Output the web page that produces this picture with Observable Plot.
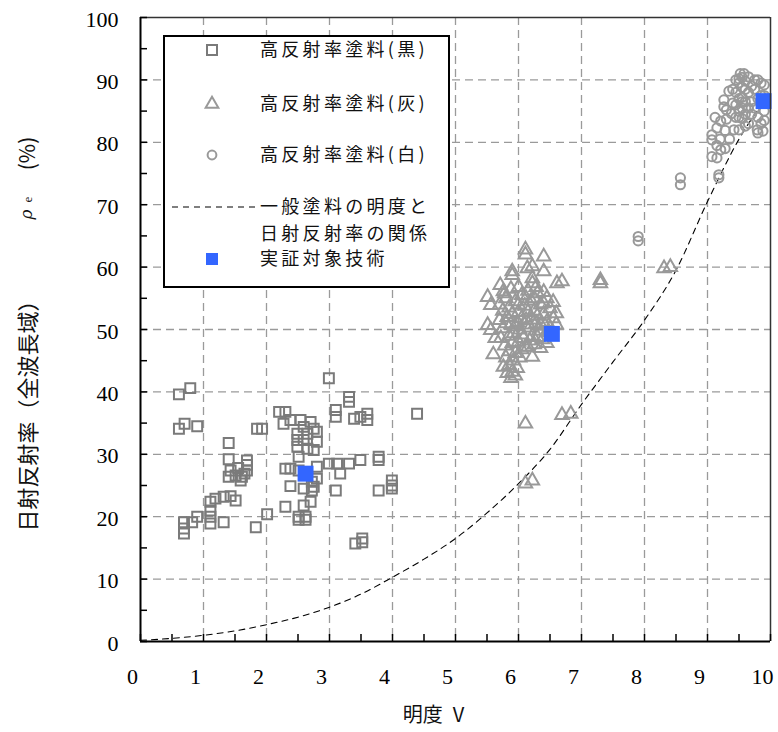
<!DOCTYPE html>
<html><head><meta charset="utf-8">
<script src="https://cdn.jsdelivr.net/npm/d3@7"></script>
<script src="https://cdn.jsdelivr.net/npm/@observablehq/plot@0.6"></script>
<style>
body{margin:0;background:#fff;}
#wrap{position:relative;width:778px;height:732px;overflow:hidden;}
#legend{position:absolute;left:163px;top:35px;width:283px;height:249px;border:2px solid #000;background:#fff;}
#legend svg{overflow:visible;}
</style></head><body><div id="wrap"><div id="legend"></div></div>
<script>
// ---- data ----
const seriesNames = ["高反射率塗料(黒)", "高反射率塗料(灰)", "高反射率塗料(白)", "一般塗料の明度と", "日射反射率の関係", "実証対象技術"];
const xTitle = "明度\u2002V";
const yTitleMain = "日射反射率（全波長域）";
const yTitleRho = "ρ";
const yTitleSub = "e";
const yTitleUnit = "(%)";
const tickV = [0,1,2,3,4,5,6,7,8,9,10];
const tickRho = [0,10,20,30,40,50,60,70,80,90,100];
const gridV = [1,2,3,4,5,6,7,8,9];
const gridRho = [10,20,30,40,50,60,70,80,90];
const minorV = d3.range(0, 10.01, 0.5);
const minorRho = d3.range(0, 100.1, 5);

// 高反射率塗料(黒) squares
const blackV = [0.61,0.79,0.61,0.70,0.90,1.40,1.40,1.43,1.51,1.61,1.69,1.69,1.59,1.69,1.40,1.11,1.19,1.32,1.43,1.51,1.11,1.11,1.11,1.32,0.69,0.69,0.69,0.82,0.90,1.83,2.01,1.85,1.93,2.20,2.30,2.99,3.31,3.31,3.10,3.10,3.39,3.49,3.60,3.60,4.39,2.27,2.38,2.54,2.70,2.59,2.75,2.49,2.65,2.80,2.49,2.59,2.80,2.49,2.65,2.75,2.51,2.30,2.38,2.51,2.80,2.80,2.99,3.12,3.17,3.31,3.49,3.78,3.78,3.99,3.99,3.99,3.78,3.10,2.38,2.59,2.72,2.70,2.59,2.30,2.51,2.62,2.51,2.62,3.41,3.52,3.52,1.55,1.65,2.75,2.72];
const blackRho = [39.6,40.6,34.1,34.9,34.5,31.8,29.2,27.4,26.6,26.4,29.0,27.4,25.8,28.3,26.4,22.4,22.9,23.2,23.3,22.6,21.0,20.0,18.9,19.1,19.1,18.1,17.3,19.1,20.0,18.3,20.4,34.1,34.1,36.8,36.8,42.2,39.2,38.4,37.1,36.0,35.7,36.0,36.5,35.5,36.5,34.9,35.5,35.5,35.2,34.4,34.1,33.3,33.3,33.6,32.3,32.3,32.0,31.2,30.9,30.7,29.6,27.7,27.7,27.4,28.0,26.1,28.5,28.5,26.9,28.5,29.1,29.6,29.1,25.8,25.0,24.5,24.2,24.2,24.9,24.5,24.2,22.4,21.8,21.6,20.0,20.0,19.5,19.5,15.7,16.5,15.9,27.8,26.9,24.8,25.6];

// 高反射率塗料(灰) triangles
const grayV = [6.11,6.11,6.40,5.90,5.90,6.14,6.22,6.40,6.22,6.22,6.61,6.69,7.30,7.30,8.31,8.41,5.71,5.76,
  5.80,5.85,5.95,6.00,6.05,6.10,6.15,6.20,6.25,6.30,6.35,6.40,6.45,6.50,6.55,6.60,5.70,5.75,5.82,5.88,5.92,5.98,6.02,6.08,6.12,6.18,6.22,6.28,6.32,6.38,6.42,6.48,5.72,5.78,5.85,5.90,5.95,6.00,6.05,6.15,6.25,6.35,5.80,5.85,5.90,5.95,5.76,5.98,6.22,6.11,
  6.11,6.69,6.83,6.11,6.22,5.51,5.56,5.51,5.56,5.63,5.60,
  5.75,5.80,5.85,5.90,5.95,6.00,6.05,6.05,6.10,6.15,6.20,6.25,6.30,6.35,6.40,6.45,6.50,6.55,6.60,5.70,5.78,5.88,6.00,6.12,6.28,6.40,5.92,6.02,5.82,5.88,6.18,6.30,6.45];
const grayRho = [62.8,62.0,61.7,59.3,58.7,59.8,60.1,59.3,58.2,57.4,57.4,57.7,57.9,57.4,59.8,60.0,57.1,56.1,
  55.0,53.5,54.5,52.8,55.5,53.8,56.2,54.6,53.0,55.8,54.0,52.5,55.0,53.4,51.8,52.6,51.5,50.2,52.0,50.8,49.4,51.2,50.0,48.6,51.5,50.3,49.0,51.0,49.8,48.4,50.6,49.5,48.6,47.4,46.5,47.8,46.2,48.0,46.8,47.2,47.6,47.0,45.5,44.3,43.2,42.6,44.0,43.8,45.6,47.2,
  34.9,36.3,36.5,25.3,25.8,55.2,53.9,50.7,49.9,48.6,46.0,
  53.0,51.0,49.0,52.5,50.5,54.0,51.8,49.2,50.8,52.8,51.6,55.0,52.2,50.8,54.2,51.2,50.2,54.4,50.8,54.0,55.8,56.5,56.8,55.0,56.8,56.0,45.0,45.5,43.0,42.2,48.2,48.8,47.8];

// 高反射率塗料(白) circles
const whiteV = [7.90,7.90,8.57,8.57,9.18,9.18,9.07,9.15,9.21,9.28,9.07,9.07,9.15,9.21,9.28,9.30,9.26,9.26,9.34,9.42,9.50,
  9.45,9.45,9.45,9.50,9.50,9.55,9.55,9.55,9.55,9.55,9.60,9.60,9.60,9.60,9.50,9.50,9.40,9.38,9.65,9.65,9.65,
  9.80,9.85,9.90,9.75,9.80,9.75,9.80,9.85,9.79,9.90,9.70,9.70,9.90,9.80,
  9.50,9.55,9.60,9.45,9.52,9.58,9.65,9.70,9.75,9.85,9.90,9.88,9.20,9.15,9.35,9.40,9.30,9.12];
const whiteRho = [64.9,64.2,74.3,73.2,74.8,74.3,77.7,77.5,78.8,79.0,81.2,80.4,82.3,83.4,81.9,83.7,86.8,85.7,88.2,82.0,82.0,
  84.0,86.0,88.0,89.5,90.2,90.4,88.8,87.2,85.5,83.8,89.8,86.5,84.5,82.6,85.0,87.0,86.3,84.6,88.0,85.5,83.0,
  90.0,89.5,89.2,88.5,87.0,85.5,84.0,83.0,82.0,87.5,86.5,84.5,85.0,81.5,
  84.0,86.5,88.5,90.0,91.0,91.0,90.5,89.0,90.0,87.5,83.5,81.8,80.5,79.5,80.5,88.5,85.2,84.0];

// 実証対象技術
const targetV = [2.62, 6.53, 9.89];
const targetRho = [26.9, 49.3, 86.6];

// 一般塗料の明度と日射反射率の関係
const curveV = [0,0.5,1,1.5,2,2.5,3,3.5,4,4.5,5,5.5,6,6.5,7,7.5,8,8.5,9,9.5,9.85];
const curveRho = [0.2,0.5,1.0,1.7,2.7,3.9,5.5,7.6,10.3,13.2,16.5,20.6,25.3,30.8,38.0,44.8,51.5,59.5,70.5,80.5,86.0];

// ---- tables ----
const zip = (xs, ys) => xs.map((v, i) => ({v, rho: ys[i]}));
const black = zip(blackV, blackRho);
const gray = zip(grayV, grayRho);
const white = zip(whiteV, whiteRho);
const target = zip(targetV, targetRho);
const curve = zip(curveV, curveRho);

const W = 778, H = 732, mL = 140, mR = 8, mT = 17, mB = 91;
const plotW = W - mL - mR, plotH = H - mT - mB;
const gridStyle = {stroke: "#9a9a9a", strokeOpacity: 1, strokeWidth: 1.3, strokeDasharray: "8,5"};
const jp = "'Noto Sans CJK JP', 'Noto Sans', sans-serif";
const titleStyle = {frameAnchor: "left", textAnchor: "middle", lineAnchor: "middle", rotate: -90, fill: "#111"};

const chart = Plot.plot({
  width: W, height: H,
  marginLeft: mL, marginRight: mR, marginTop: mT, marginBottom: mB,
  x: {domain: [0, 10], label: null},
  y: {domain: [0, 100], label: null},
  style: {fontFamily: "'Liberation Serif', serif", fontSize: "22px", background: "#fff", color: "#000"},
  marks: [
    Plot.gridX(gridV, gridStyle),
    Plot.gridY(gridRho, gridStyle),
    Plot.line(curve, {x: "v", y: "rho", curve: "monotone-x", stroke: "#000", strokeWidth: 1.1, strokeDasharray: "6,5"}),
    Plot.dot(black, {x: "v", y: "rho", symbol: "square", r: 5.6, stroke: "#7a7a7a", strokeWidth: 2, fill: "none"}),
    Plot.dot(gray, {x: "v", y: "rho", symbol: "triangle", r: 5, stroke: "#999", strokeWidth: 2, fill: "none"}),
    Plot.dot(white, {x: "v", y: "rho", symbol: "circle", r: 4.6, stroke: "#999", strokeWidth: 2, fill: "none"}),
    Plot.dot(target, {x: "v", y: "rho", symbol: "square", r: 9, fill: "#3366ff", stroke: "none"}),
    Plot.ruleY([100], {stroke: "#333", strokeWidth: 1.5}),
    Plot.ruleX([10], {stroke: "#333", strokeWidth: 1.5}),
    Plot.ruleX([0], {stroke: "#000", strokeWidth: 2}),
    Plot.ruleY([0], {stroke: "#000", strokeWidth: 2}),
    Plot.tickX(minorV, {x: d => d, insetTop: plotH - 7, stroke: "#000", strokeWidth: 1.5}),
    Plot.tickY(minorRho, {y: d => d, insetRight: plotW - 7, stroke: "#000", strokeWidth: 1.5}),
    Plot.axisX(tickV, {tickSize: 0, tickPadding: 27, dx: -8, fontSize: 22}),
    Plot.axisY(tickRho, {tickSize: 0, tickPadding: 22, dy: 2, fontSize: 22}),
    Plot.text([yTitleMain], {...titleStyle, dx: -112, dy: 81, fontFamily: jp, fontSize: 22}),
    Plot.text([yTitleRho], {...titleStyle, dx: -114, dy: -115, fontFamily: "'DejaVu Serif', serif", fontStyle: "italic", fontSize: 17}),
    Plot.text([yTitleSub], {...titleStyle, dx: -113, dy: -130, fontFamily: "'Liberation Serif', serif", fontSize: 13}),
    Plot.text([yTitleUnit], {...titleStyle, dx: -112, dy: -176, fontFamily: jp, fontSize: 21}),
    Plot.text([xTitle], {frameAnchor: "bottom", textAnchor: "middle", dx: -22, dy: 80, fontFamily: jp, fontSize: 20, fill: "#111"})
  ]
});
const wrap = document.getElementById("wrap");
wrap.insertBefore(chart, wrap.firstChild);

// ---- legend overlay ----
const lg = d3.select("#legend").append("svg").attr("width", 283).attr("height", 249)
  .style("position", "absolute").style("left", 0).style("top", 0);
const tx = 95, sx = 47;
const rows = [
  {y: 13, label: seriesNames[0], sym: "square"},
  {y: 67, label: seriesNames[1], sym: "triangle"},
  {y: 118, label: seriesNames[2], sym: "circle"},
  {y: 170, label: seriesNames[3], sym: "dash"},
  {y: 197, label: seriesNames[4], sym: null},
  {y: 222, label: seriesNames[5], sym: "target"}
];
for (const r of rows) {
  if (r.sym === "square") lg.append("rect").attr("x", sx - 5).attr("y", r.y - 5).attr("width", 10).attr("height", 10).attr("fill", "none").attr("stroke", "#7a7a7a").attr("stroke-width", 2);
  if (r.sym === "triangle") lg.append("path").attr("d", d3.symbol(d3.symbolTriangle, 70)()).attr("transform", `translate(${sx},${r.y})`).attr("fill", "none").attr("stroke", "#999").attr("stroke-width", 2);
  if (r.sym === "circle") lg.append("circle").attr("cx", sx).attr("cy", r.y).attr("r", 4.4).attr("fill", "none").attr("stroke", "#999").attr("stroke-width", 2);
  if (r.sym === "dash") lg.append("line").attr("x1", 7).attr("x2", 94).attr("y1", r.y).attr("y2", r.y).attr("stroke", "#000").attr("stroke-width", 1.1).attr("stroke-dasharray", "6,5");
  if (r.sym === "target") lg.append("rect").attr("x", sx - 6).attr("y", r.y - 6).attr("width", 12).attr("height", 12).attr("fill", "#3366ff");
  lg.append("text").attr("x", tx).attr("y", r.y).attr("dy", "0.36em").text(r.label)
    .attr("font-family", jp).attr("font-size", 18).attr("letter-spacing", "3.3px").attr("fill", "#111");
}
</script></body></html>
